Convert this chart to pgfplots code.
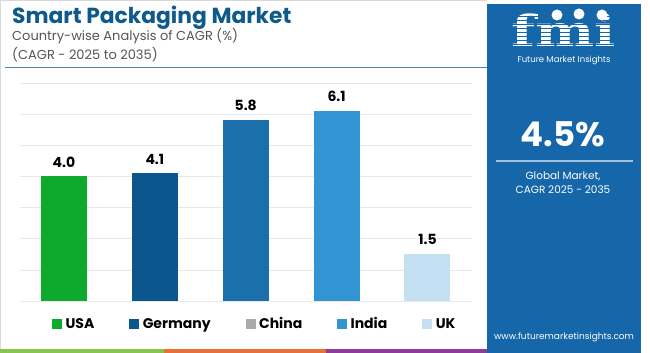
\documentclass[border=0pt]{standalone}
\usepackage{pgfplots}
\pgfplotsset{compat=1.18}
\usepackage{fontspec}
\setmainfont{Poppins}
\newfontfamily\logofont{DejaVu Serif}
\definecolor{cUSA}{RGB}{14,170,46}
\definecolor{cGer}{RGB}{11,86,140}
\definecolor{cChi}{RGB}{27,111,170}
\definecolor{cInd}{RGB}{51,148,212}
\definecolor{cUK}{RGB}{196,224,243}
\definecolor{cGray}{RGB}{170,170,170}
\definecolor{panel}{RGB}{22,102,170}
\definecolor{titleblue}{RGB}{14,90,140}
\definecolor{subgray}{RGB}{85,85,85}
\definecolor{lineblue}{RGB}{70,130,180}
\definecolor{sGreen}{RGB}{140,195,75}
\definecolor{sOrange}{RGB}{232,112,58}
\definecolor{sPurple}{RGB}{142,60,151}
\begin{document}
\begin{tikzpicture}[x=1pt,y=1pt]
\useasboundingbox (0pt,0pt) rectangle (650pt,353pt);
\fill[white] (0pt,0pt) rectangle (650pt,353pt);
\draw[black!15, line width=1pt] (0.5pt,0pt) -- (0.5pt,352.5pt) -- (487pt,352.5pt);
% title block
\node[anchor=base west, inner sep=0pt, text=titleblue, font=\bfseries\fontsize{21.8}{21.8}\selectfont] at (12pt,329pt) {Smart Packaging Market};
\node[anchor=base west, inner sep=0pt, text=subgray, font=\fontsize{13}{13}\selectfont] at (12pt,312pt) {Country-wise Analysis of CAGR (\%)};
\node[anchor=base west, inner sep=0pt, text=subgray, font=\fontsize{13}{13}\selectfont] at (12pt,293pt) {(CAGR - 2025 to 2035)};
\draw[lineblue, line width=1.5pt] (5pt,285.5pt) -- (487pt,285.5pt);
% bottom stripes
\fill[sGreen] (0pt,0pt) rectangle (164pt,4pt);
\fill[sOrange] (164pt,0pt) rectangle (326pt,4pt);
\fill[sPurple] (326pt,0pt) rectangle (487pt,4pt);
% right panel
\fill[panel] (487pt,0pt) rectangle (641pt,349pt);
\node[white, inner sep=0pt, text depth=0pt, anchor=base, font=\logofont\bfseries\fontsize{43}{43}\selectfont, xscale=1.3] at (564pt,306pt) {fmi};
\foreach \yy in {309,313,...,341} {\draw[panel, line width=0.9pt] (506pt,\yy pt) -- (622pt,\yy pt);}
\fill[white] (557pt,338pt) circle (5.5pt);
\fill[white] (579pt,339pt) circle (5.5pt);
\fill[white] (602pt,338pt) circle (5.5pt);
\node[white, inner sep=0pt, anchor=base, font=\fontsize{8.5}{8.5}\selectfont] at (564pt,290pt) {Future Market Insights};
\node[white, inner sep=0pt, anchor=base, font=\bfseries\fontsize{34}{34}\selectfont] at (563pt,206pt) {4.5\%};
\draw[white!60!panel, line width=1.3pt] (496pt,192pt) -- (633pt,192pt);
\node[white, inner sep=0pt, anchor=base, font=\fontsize{10.5}{10.5}\selectfont] at (563pt,173pt) {Global Market,};
\node[white, inner sep=0pt, anchor=base, font=\fontsize{10.5}{10.5}\selectfont] at (563pt,159pt) {CAGR 2025 - 2035};
\node[white, inner sep=0pt, anchor=base, font=\fontsize{9}{9}\selectfont] at (564pt,13pt) {www.futuremarketinsights.com};
% chart
\begin{axis}[at={(20pt,52pt)}, anchor=south west, scale only axis,
  width=452pt, height=218pt,
  xmin=-0.484, xmax=4.49, ymin=0, ymax=7,
  axis line style={draw=none},
  ytick={0,1,...,7}, yticklabels={}, xtick=\empty, major tick length=0pt,
  ymajorgrids, grid style={color=black!9, line width=0.7pt},
  ybar, bar width=46pt, bar shift=0pt,
  nodes near coords={\pgfmathprintnumber[fixed,fixed zerofill,precision=1,assume math mode=true]{\pgfplotspointmeta}},
  nodes near coords style={font=\bfseries\fontsize{14}{14}\selectfont, text=black, anchor=south, inner sep=0pt, yshift=9pt},
  legend style={at={(axis description cs:0.0708,-0.1055)}, anchor=west, draw=none, fill=none, inner sep=0pt,
    font=\bfseries\fontsize{14}{14}\selectfont, nodes={inner xsep=2pt, inner ysep=2pt},
    /tikz/every even column/.append style={column sep=33pt},
    /tikz/every odd column/.append style={column sep=2pt}},
  legend columns=5, legend cell align=left,
  clip=false]
\addplot[fill=cUSA, draw=none, forget plot] coordinates {(0,4.0)};
\addplot[fill=cGer, draw=none, forget plot] coordinates {(1,4.1)};
\addplot[fill=cChi, draw=none, forget plot] coordinates {(2,5.8)};
\addplot[fill=cInd, draw=none, forget plot] coordinates {(3,6.1)};
\addplot[fill=cUK, draw=none, forget plot] coordinates {(4,1.5)};
\addlegendimage{legend image code/.code={\fill[cUSA] (0pt,-4.5pt) rectangle (9pt,4.5pt);}}
\addlegendentry{USA}
\addlegendimage{legend image code/.code={\fill[cGer] (0pt,-4.5pt) rectangle (9pt,4.5pt);}}
\addlegendentry{Germany}
\addlegendimage{legend image code/.code={\fill[cGray] (0pt,-4.5pt) rectangle (9pt,4.5pt);}}
\addlegendentry{China}
\addlegendimage{legend image code/.code={\fill[cInd] (0pt,-4.5pt) rectangle (9pt,4.5pt);}}
\addlegendentry{India}
\addlegendimage{legend image code/.code={\fill[cUK] (0pt,-4.5pt) rectangle (9pt,4.5pt);}}
\addlegendentry{UK}
\end{axis}
\end{tikzpicture}
\end{document}
